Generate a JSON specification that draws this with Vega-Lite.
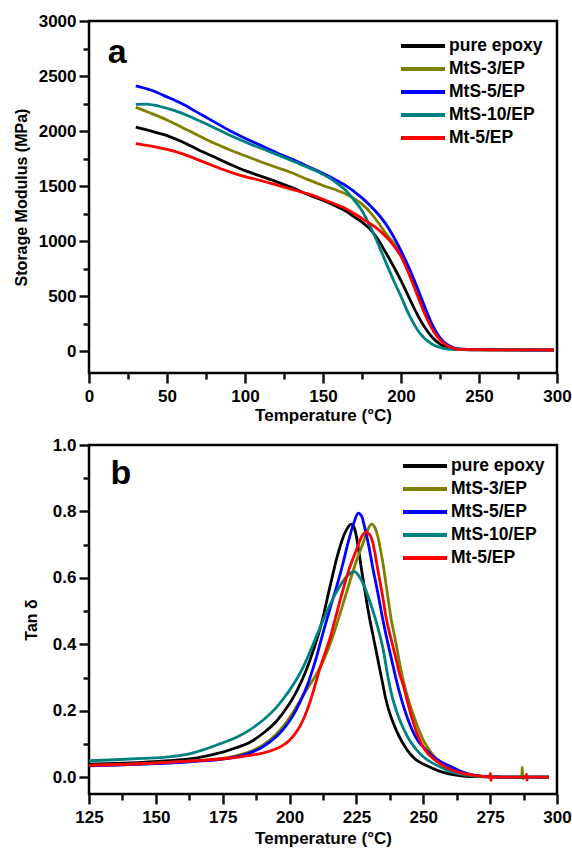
{
"$schema": "https://vega.github.io/schema/vega-lite/v6.json",
"padding": {"left": 11, "top": 10, "right": 0, "bottom": 0},
"bounds": "flush",
"spacing": 72,
"config": {
  "font": "Liberation Sans",
  "view": {"stroke": "#000", "strokeWidth": 2.5},
  "axis": {"domain": false, "grid": false, "labelFont": "Liberation Sans", "labelFontSize": 17, "labelFontWeight": "bold", "labelColor": "#000", "titleFont": "Liberation Sans", "titleFontSize": 17, "titleFontWeight": "bold", "titleColor": "#000", "labelOverlap": false, "labelFlush": false},
  "axisY": {"titleFontSize": 16},
  "legend": {"orient": "none", "title": null, "symbolType": "stroke", "symbolSize": 1936, "symbolStrokeWidth": 4, "clipHeight": 20, "rowPadding": 3, "labelFont": "Liberation Sans", "labelFontSize": 17.5, "labelFontWeight": "bold", "labelColor": "#000", "labelOffset": 2, "padding": 0, "symbolOpacity": 1}
},
"resolve": {"scale": {"color": "independent"}, "legend": {"color": "independent"}},
"datasets": {
"modulus": [
{"s":"pure epoxy","T":30,"E":2035},{"s":"pure epoxy","T":40,"E":1998},{"s":"pure epoxy","T":50,"E":1958},{"s":"pure epoxy","T":60,"E":1900},{"s":"pure epoxy","T":70,"E":1830},{"s":"pure epoxy","T":80,"E":1765},{"s":"pure epoxy","T":90,"E":1700},{"s":"pure epoxy","T":100,"E":1640},{"s":"pure epoxy","T":110,"E":1590},{"s":"pure epoxy","T":120,"E":1540},{"s":"pure epoxy","T":130,"E":1485},{"s":"pure epoxy","T":140,"E":1425},{"s":"pure epoxy","T":150,"E":1370},{"s":"pure epoxy","T":160,"E":1305},{"s":"pure epoxy","T":165,"E":1268},{"s":"pure epoxy","T":170,"E":1220},{"s":"pure epoxy","T":175,"E":1172},{"s":"pure epoxy","T":180,"E":1110},{"s":"pure epoxy","T":185,"E":1020},{"s":"pure epoxy","T":190,"E":900},{"s":"pure epoxy","T":195,"E":775},{"s":"pure epoxy","T":200,"E":640},{"s":"pure epoxy","T":205,"E":490},{"s":"pure epoxy","T":210,"E":345},{"s":"pure epoxy","T":215,"E":220},{"s":"pure epoxy","T":220,"E":125},{"s":"pure epoxy","T":225,"E":62},{"s":"pure epoxy","T":230,"E":28},{"s":"pure epoxy","T":235,"E":16},{"s":"pure epoxy","T":240,"E":12},{"s":"pure epoxy","T":250,"E":10},{"s":"pure epoxy","T":260,"E":10},{"s":"pure epoxy","T":280,"E":9},{"s":"pure epoxy","T":298,"E":8},
{"s":"MtS-3/EP","T":30,"E":2215},{"s":"MtS-3/EP","T":40,"E":2160},{"s":"MtS-3/EP","T":50,"E":2100},{"s":"MtS-3/EP","T":60,"E":2030},{"s":"MtS-3/EP","T":70,"E":1960},{"s":"MtS-3/EP","T":80,"E":1890},{"s":"MtS-3/EP","T":90,"E":1830},{"s":"MtS-3/EP","T":100,"E":1775},{"s":"MtS-3/EP","T":110,"E":1720},{"s":"MtS-3/EP","T":120,"E":1670},{"s":"MtS-3/EP","T":130,"E":1620},{"s":"MtS-3/EP","T":140,"E":1560},{"s":"MtS-3/EP","T":150,"E":1505},{"s":"MtS-3/EP","T":160,"E":1455},{"s":"MtS-3/EP","T":165,"E":1425},{"s":"MtS-3/EP","T":170,"E":1385},{"s":"MtS-3/EP","T":175,"E":1335},{"s":"MtS-3/EP","T":180,"E":1265},{"s":"MtS-3/EP","T":185,"E":1175},{"s":"MtS-3/EP","T":190,"E":1075},{"s":"MtS-3/EP","T":195,"E":985},{"s":"MtS-3/EP","T":200,"E":870},{"s":"MtS-3/EP","T":205,"E":715},{"s":"MtS-3/EP","T":210,"E":540},{"s":"MtS-3/EP","T":215,"E":365},{"s":"MtS-3/EP","T":220,"E":220},{"s":"MtS-3/EP","T":225,"E":110},{"s":"MtS-3/EP","T":230,"E":50},{"s":"MtS-3/EP","T":235,"E":22},{"s":"MtS-3/EP","T":240,"E":15},{"s":"MtS-3/EP","T":250,"E":12},{"s":"MtS-3/EP","T":260,"E":11},{"s":"MtS-3/EP","T":280,"E":10},{"s":"MtS-3/EP","T":298,"E":9},
{"s":"MtS-5/EP","T":30,"E":2410},{"s":"MtS-5/EP","T":40,"E":2370},{"s":"MtS-5/EP","T":50,"E":2310},{"s":"MtS-5/EP","T":60,"E":2245},{"s":"MtS-5/EP","T":70,"E":2165},{"s":"MtS-5/EP","T":80,"E":2085},{"s":"MtS-5/EP","T":90,"E":2005},{"s":"MtS-5/EP","T":100,"E":1935},{"s":"MtS-5/EP","T":110,"E":1870},{"s":"MtS-5/EP","T":120,"E":1805},{"s":"MtS-5/EP","T":130,"E":1745},{"s":"MtS-5/EP","T":140,"E":1680},{"s":"MtS-5/EP","T":150,"E":1615},{"s":"MtS-5/EP","T":160,"E":1540},{"s":"MtS-5/EP","T":165,"E":1500},{"s":"MtS-5/EP","T":170,"E":1448},{"s":"MtS-5/EP","T":175,"E":1392},{"s":"MtS-5/EP","T":180,"E":1325},{"s":"MtS-5/EP","T":185,"E":1250},{"s":"MtS-5/EP","T":190,"E":1160},{"s":"MtS-5/EP","T":195,"E":1045},{"s":"MtS-5/EP","T":200,"E":910},{"s":"MtS-5/EP","T":205,"E":760},{"s":"MtS-5/EP","T":210,"E":590},{"s":"MtS-5/EP","T":215,"E":410},{"s":"MtS-5/EP","T":220,"E":240},{"s":"MtS-5/EP","T":225,"E":120},{"s":"MtS-5/EP","T":230,"E":55},{"s":"MtS-5/EP","T":235,"E":25},{"s":"MtS-5/EP","T":240,"E":17},{"s":"MtS-5/EP","T":250,"E":14},{"s":"MtS-5/EP","T":260,"E":12},{"s":"MtS-5/EP","T":280,"E":10},{"s":"MtS-5/EP","T":298,"E":9},
{"s":"MtS-10/EP","T":30,"E":2242},{"s":"MtS-10/EP","T":37,"E":2245},{"s":"MtS-10/EP","T":45,"E":2225},{"s":"MtS-10/EP","T":55,"E":2185},{"s":"MtS-10/EP","T":65,"E":2130},{"s":"MtS-10/EP","T":75,"E":2065},{"s":"MtS-10/EP","T":85,"E":1998},{"s":"MtS-10/EP","T":95,"E":1932},{"s":"MtS-10/EP","T":105,"E":1872},{"s":"MtS-10/EP","T":115,"E":1817},{"s":"MtS-10/EP","T":125,"E":1760},{"s":"MtS-10/EP","T":135,"E":1700},{"s":"MtS-10/EP","T":145,"E":1640},{"s":"MtS-10/EP","T":155,"E":1565},{"s":"MtS-10/EP","T":160,"E":1515},{"s":"MtS-10/EP","T":165,"E":1455},{"s":"MtS-10/EP","T":170,"E":1370},{"s":"MtS-10/EP","T":175,"E":1275},{"s":"MtS-10/EP","T":180,"E":1140},{"s":"MtS-10/EP","T":185,"E":985},{"s":"MtS-10/EP","T":190,"E":815},{"s":"MtS-10/EP","T":195,"E":650},{"s":"MtS-10/EP","T":200,"E":495},{"s":"MtS-10/EP","T":205,"E":335},{"s":"MtS-10/EP","T":210,"E":205},{"s":"MtS-10/EP","T":215,"E":115},{"s":"MtS-10/EP","T":220,"E":62},{"s":"MtS-10/EP","T":225,"E":32},{"s":"MtS-10/EP","T":230,"E":18},{"s":"MtS-10/EP","T":235,"E":14},{"s":"MtS-10/EP","T":240,"E":12},{"s":"MtS-10/EP","T":250,"E":10},{"s":"MtS-10/EP","T":260,"E":10},{"s":"MtS-10/EP","T":280,"E":9},{"s":"MtS-10/EP","T":298,"E":8},
{"s":"Mt-5/EP","T":30,"E":1885},{"s":"Mt-5/EP","T":40,"E":1862},{"s":"Mt-5/EP","T":50,"E":1832},{"s":"Mt-5/EP","T":60,"E":1792},{"s":"Mt-5/EP","T":70,"E":1738},{"s":"Mt-5/EP","T":80,"E":1682},{"s":"Mt-5/EP","T":90,"E":1628},{"s":"Mt-5/EP","T":100,"E":1585},{"s":"Mt-5/EP","T":110,"E":1550},{"s":"Mt-5/EP","T":120,"E":1510},{"s":"Mt-5/EP","T":130,"E":1470},{"s":"Mt-5/EP","T":140,"E":1430},{"s":"Mt-5/EP","T":150,"E":1380},{"s":"Mt-5/EP","T":160,"E":1322},{"s":"Mt-5/EP","T":165,"E":1292},{"s":"Mt-5/EP","T":170,"E":1250},{"s":"Mt-5/EP","T":175,"E":1205},{"s":"Mt-5/EP","T":180,"E":1160},{"s":"Mt-5/EP","T":185,"E":1110},{"s":"Mt-5/EP","T":190,"E":1045},{"s":"Mt-5/EP","T":195,"E":965},{"s":"Mt-5/EP","T":200,"E":860},{"s":"Mt-5/EP","T":205,"E":705},{"s":"Mt-5/EP","T":210,"E":525},{"s":"Mt-5/EP","T":215,"E":345},{"s":"Mt-5/EP","T":220,"E":200},{"s":"Mt-5/EP","T":225,"E":100},{"s":"Mt-5/EP","T":230,"E":45},{"s":"Mt-5/EP","T":235,"E":20},{"s":"Mt-5/EP","T":240,"E":14},{"s":"Mt-5/EP","T":250,"E":12},{"s":"Mt-5/EP","T":260,"E":11},{"s":"Mt-5/EP","T":280,"E":10},{"s":"Mt-5/EP","T":298,"E":9}
],
"tand": [
{"s":"pure epoxy","T":125,"v":0.040},{"s":"pure epoxy","T":135,"v":0.042},{"s":"pure epoxy","T":145,"v":0.045},{"s":"pure epoxy","T":155,"v":0.050},{"s":"pure epoxy","T":160,"v":0.053},{"s":"pure epoxy","T":165,"v":0.058},{"s":"pure epoxy","T":170,"v":0.066},{"s":"pure epoxy","T":175,"v":0.076},{"s":"pure epoxy","T":180,"v":0.089},{"s":"pure epoxy","T":185,"v":0.105},{"s":"pure epoxy","T":190,"v":0.132},{"s":"pure epoxy","T":195,"v":0.168},{"s":"pure epoxy","T":200,"v":0.222},{"s":"pure epoxy","T":203,"v":0.265},{"s":"pure epoxy","T":206,"v":0.318},{"s":"pure epoxy","T":209,"v":0.385},{"s":"pure epoxy","T":212,"v":0.465},{"s":"pure epoxy","T":215,"v":0.57},{"s":"pure epoxy","T":218,"v":0.67},{"s":"pure epoxy","T":220,"v":0.722},{"s":"pure epoxy","T":222,"v":0.754},{"s":"pure epoxy","T":223,"v":0.762},{"s":"pure epoxy","T":224,"v":0.755},{"s":"pure epoxy","T":225,"v":0.725},{"s":"pure epoxy","T":226,"v":0.675},{"s":"pure epoxy","T":227,"v":0.62},{"s":"pure epoxy","T":228,"v":0.57},{"s":"pure epoxy","T":229,"v":0.52},{"s":"pure epoxy","T":230,"v":0.475},{"s":"pure epoxy","T":231,"v":0.435},{"s":"pure epoxy","T":232,"v":0.395},{"s":"pure epoxy","T":233,"v":0.355},{"s":"pure epoxy","T":234,"v":0.315},{"s":"pure epoxy","T":235,"v":0.275},{"s":"pure epoxy","T":236,"v":0.235},{"s":"pure epoxy","T":238,"v":0.18},{"s":"pure epoxy","T":240,"v":0.14},{"s":"pure epoxy","T":242,"v":0.108},{"s":"pure epoxy","T":244,"v":0.082},{"s":"pure epoxy","T":247,"v":0.055},{"s":"pure epoxy","T":250,"v":0.04},{"s":"pure epoxy","T":253,"v":0.029},{"s":"pure epoxy","T":256,"v":0.019},{"s":"pure epoxy","T":260,"v":0.01},{"s":"pure epoxy","T":265,"v":0.004},{"s":"pure epoxy","T":270,"v":0.002},{"s":"pure epoxy","T":280,"v":0.001},{"s":"pure epoxy","T":297,"v":0.001},
{"s":"MtS-3/EP","T":125,"v":0.036},{"s":"MtS-3/EP","T":135,"v":0.038},{"s":"MtS-3/EP","T":145,"v":0.041},{"s":"MtS-3/EP","T":155,"v":0.045},{"s":"MtS-3/EP","T":165,"v":0.050},{"s":"MtS-3/EP","T":175,"v":0.057},{"s":"MtS-3/EP","T":180,"v":0.065},{"s":"MtS-3/EP","T":185,"v":0.077},{"s":"MtS-3/EP","T":190,"v":0.097},{"s":"MtS-3/EP","T":195,"v":0.13},{"s":"MtS-3/EP","T":198,"v":0.157},{"s":"MtS-3/EP","T":201,"v":0.192},{"s":"MtS-3/EP","T":204,"v":0.232},{"s":"MtS-3/EP","T":207,"v":0.272},{"s":"MtS-3/EP","T":210,"v":0.31},{"s":"MtS-3/EP","T":213,"v":0.358},{"s":"MtS-3/EP","T":216,"v":0.42},{"s":"MtS-3/EP","T":218,"v":0.47},{"s":"MtS-3/EP","T":220,"v":0.522},{"s":"MtS-3/EP","T":222,"v":0.575},{"s":"MtS-3/EP","T":225,"v":0.652},{"s":"MtS-3/EP","T":227.5,"v":0.705},{"s":"MtS-3/EP","T":229,"v":0.74},{"s":"MtS-3/EP","T":230.6,"v":0.762},{"s":"MtS-3/EP","T":232,"v":0.75},{"s":"MtS-3/EP","T":233,"v":0.725},{"s":"MtS-3/EP","T":234,"v":0.685},{"s":"MtS-3/EP","T":235,"v":0.64},{"s":"MtS-3/EP","T":236,"v":0.585},{"s":"MtS-3/EP","T":237,"v":0.53},{"s":"MtS-3/EP","T":238,"v":0.475},{"s":"MtS-3/EP","T":239,"v":0.435},{"s":"MtS-3/EP","T":240,"v":0.395},{"s":"MtS-3/EP","T":241,"v":0.35},{"s":"MtS-3/EP","T":242,"v":0.31},{"s":"MtS-3/EP","T":244,"v":0.245},{"s":"MtS-3/EP","T":246,"v":0.195},{"s":"MtS-3/EP","T":248,"v":0.15},{"s":"MtS-3/EP","T":250,"v":0.112},{"s":"MtS-3/EP","T":252,"v":0.085},{"s":"MtS-3/EP","T":255,"v":0.055},{"s":"MtS-3/EP","T":260,"v":0.032},{"s":"MtS-3/EP","T":265,"v":0.014},{"s":"MtS-3/EP","T":270,"v":0.005},{"s":"MtS-3/EP","T":280,"v":0.001},{"s":"MtS-3/EP","T":286.8,"v":0.001},{"s":"MtS-3/EP","T":287,"v":0.031},{"s":"MtS-3/EP","T":287.2,"v":-0.004},{"s":"MtS-3/EP","T":287.4,"v":0.001},{"s":"MtS-3/EP","T":297,"v":0.001},
{"s":"MtS-5/EP","T":125,"v":0.035},{"s":"MtS-5/EP","T":135,"v":0.037},{"s":"MtS-5/EP","T":145,"v":0.040},{"s":"MtS-5/EP","T":155,"v":0.043},{"s":"MtS-5/EP","T":165,"v":0.048},{"s":"MtS-5/EP","T":175,"v":0.055},{"s":"MtS-5/EP","T":180,"v":0.062},{"s":"MtS-5/EP","T":185,"v":0.073},{"s":"MtS-5/EP","T":190,"v":0.092},{"s":"MtS-5/EP","T":195,"v":0.122},{"s":"MtS-5/EP","T":198,"v":0.148},{"s":"MtS-5/EP","T":201,"v":0.182},{"s":"MtS-5/EP","T":204,"v":0.228},{"s":"MtS-5/EP","T":207,"v":0.285},{"s":"MtS-5/EP","T":210,"v":0.36},{"s":"MtS-5/EP","T":212,"v":0.42},{"s":"MtS-5/EP","T":215,"v":0.505},{"s":"MtS-5/EP","T":218,"v":0.585},{"s":"MtS-5/EP","T":220,"v":0.645},{"s":"MtS-5/EP","T":222,"v":0.71},{"s":"MtS-5/EP","T":224,"v":0.765},{"s":"MtS-5/EP","T":225.7,"v":0.795},{"s":"MtS-5/EP","T":227,"v":0.785},{"s":"MtS-5/EP","T":228,"v":0.755},{"s":"MtS-5/EP","T":229,"v":0.72},{"s":"MtS-5/EP","T":230,"v":0.68},{"s":"MtS-5/EP","T":231,"v":0.635},{"s":"MtS-5/EP","T":232,"v":0.595},{"s":"MtS-5/EP","T":233,"v":0.555},{"s":"MtS-5/EP","T":235,"v":0.47},{"s":"MtS-5/EP","T":237,"v":0.395},{"s":"MtS-5/EP","T":238,"v":0.36},{"s":"MtS-5/EP","T":240,"v":0.29},{"s":"MtS-5/EP","T":242,"v":0.23},{"s":"MtS-5/EP","T":244,"v":0.18},{"s":"MtS-5/EP","T":246,"v":0.14},{"s":"MtS-5/EP","T":248,"v":0.11},{"s":"MtS-5/EP","T":251,"v":0.083},{"s":"MtS-5/EP","T":254,"v":0.06},{"s":"MtS-5/EP","T":257,"v":0.045},{"s":"MtS-5/EP","T":261,"v":0.03},{"s":"MtS-5/EP","T":265,"v":0.015},{"s":"MtS-5/EP","T":268,"v":0.008},{"s":"MtS-5/EP","T":272,"v":0.003},{"s":"MtS-5/EP","T":280,"v":0.001},{"s":"MtS-5/EP","T":297,"v":0.001},
{"s":"MtS-10/EP","T":125,"v":0.05},{"s":"MtS-10/EP","T":135,"v":0.053},{"s":"MtS-10/EP","T":145,"v":0.057},{"s":"MtS-10/EP","T":155,"v":0.062},{"s":"MtS-10/EP","T":160,"v":0.067},{"s":"MtS-10/EP","T":165,"v":0.076},{"s":"MtS-10/EP","T":170,"v":0.089},{"s":"MtS-10/EP","T":175,"v":0.104},{"s":"MtS-10/EP","T":180,"v":0.12},{"s":"MtS-10/EP","T":185,"v":0.142},{"s":"MtS-10/EP","T":190,"v":0.172},{"s":"MtS-10/EP","T":195,"v":0.21},{"s":"MtS-10/EP","T":200,"v":0.262},{"s":"MtS-10/EP","T":205,"v":0.33},{"s":"MtS-10/EP","T":208,"v":0.385},{"s":"MtS-10/EP","T":211,"v":0.443},{"s":"MtS-10/EP","T":214,"v":0.5},{"s":"MtS-10/EP","T":217,"v":0.55},{"s":"MtS-10/EP","T":220,"v":0.59},{"s":"MtS-10/EP","T":222,"v":0.61},{"s":"MtS-10/EP","T":224.3,"v":0.619},{"s":"MtS-10/EP","T":226,"v":0.605},{"s":"MtS-10/EP","T":228,"v":0.574},{"s":"MtS-10/EP","T":230,"v":0.53},{"s":"MtS-10/EP","T":232.2,"v":0.474},{"s":"MtS-10/EP","T":234,"v":0.42},{"s":"MtS-10/EP","T":235,"v":0.385},{"s":"MtS-10/EP","T":236.5,"v":0.315},{"s":"MtS-10/EP","T":238,"v":0.255},{"s":"MtS-10/EP","T":240.6,"v":0.185},{"s":"MtS-10/EP","T":243,"v":0.14},{"s":"MtS-10/EP","T":245,"v":0.11},{"s":"MtS-10/EP","T":247.5,"v":0.083},{"s":"MtS-10/EP","T":250,"v":0.062},{"s":"MtS-10/EP","T":253,"v":0.045},{"s":"MtS-10/EP","T":256,"v":0.033},{"s":"MtS-10/EP","T":260,"v":0.018},{"s":"MtS-10/EP","T":265,"v":0.008},{"s":"MtS-10/EP","T":270,"v":0.003},{"s":"MtS-10/EP","T":280,"v":0.001},{"s":"MtS-10/EP","T":297,"v":0.001},
{"s":"Mt-5/EP","T":125,"v":0.036},{"s":"Mt-5/EP","T":135,"v":0.038},{"s":"Mt-5/EP","T":145,"v":0.041},{"s":"Mt-5/EP","T":155,"v":0.045},{"s":"Mt-5/EP","T":165,"v":0.050},{"s":"Mt-5/EP","T":175,"v":0.056},{"s":"Mt-5/EP","T":180,"v":0.060},{"s":"Mt-5/EP","T":185,"v":0.066},{"s":"Mt-5/EP","T":190,"v":0.073},{"s":"Mt-5/EP","T":194,"v":0.083},{"s":"Mt-5/EP","T":197,"v":0.094},{"s":"Mt-5/EP","T":200,"v":0.112},{"s":"Mt-5/EP","T":203,"v":0.142},{"s":"Mt-5/EP","T":205,"v":0.172},{"s":"Mt-5/EP","T":207,"v":0.212},{"s":"Mt-5/EP","T":209,"v":0.262},{"s":"Mt-5/EP","T":211,"v":0.318},{"s":"Mt-5/EP","T":213,"v":0.368},{"s":"Mt-5/EP","T":215,"v":0.415},{"s":"Mt-5/EP","T":217,"v":0.475},{"s":"Mt-5/EP","T":220,"v":0.565},{"s":"Mt-5/EP","T":222,"v":0.62},{"s":"Mt-5/EP","T":225,"v":0.685},{"s":"Mt-5/EP","T":227,"v":0.725},{"s":"Mt-5/EP","T":228.6,"v":0.738},{"s":"Mt-5/EP","T":230,"v":0.73},{"s":"Mt-5/EP","T":231,"v":0.71},{"s":"Mt-5/EP","T":233,"v":0.625},{"s":"Mt-5/EP","T":235,"v":0.535},{"s":"Mt-5/EP","T":236,"v":0.485},{"s":"Mt-5/EP","T":238,"v":0.415},{"s":"Mt-5/EP","T":240,"v":0.35},{"s":"Mt-5/EP","T":241,"v":0.315},{"s":"Mt-5/EP","T":242.5,"v":0.278},{"s":"Mt-5/EP","T":244,"v":0.23},{"s":"Mt-5/EP","T":245.6,"v":0.183},{"s":"Mt-5/EP","T":248,"v":0.125},{"s":"Mt-5/EP","T":250.6,"v":0.083},{"s":"Mt-5/EP","T":254,"v":0.055},{"s":"Mt-5/EP","T":258,"v":0.033},{"s":"Mt-5/EP","T":263,"v":0.016},{"s":"Mt-5/EP","T":267.5,"v":0.008},{"s":"Mt-5/EP","T":272,"v":0.003},{"s":"Mt-5/EP","T":274.9,"v":0.001},{"s":"Mt-5/EP","T":275.1,"v":0.012},{"s":"Mt-5/EP","T":275.3,"v":-0.01},{"s":"Mt-5/EP","T":275.5,"v":0.001},{"s":"Mt-5/EP","T":288.4,"v":0.001},{"s":"Mt-5/EP","T":288.6,"v":0.01},{"s":"Mt-5/EP","T":288.8,"v":-0.008},{"s":"Mt-5/EP","T":289,"v":0.001},{"s":"Mt-5/EP","T":297,"v":0.001}
]
},
"vconcat": [
{
  "width": 468, "height": 352,
  "resolve": {"axis": {"x": "independent", "y": "independent"}},
  "layer": [
    {
      "data": {"name": "modulus"},
      "mark": {"type": "line", "strokeWidth": 2.8, "interpolate": "monotone"},
      "encoding": {
        "x": {"field": "T", "type": "quantitative", "title": "Temperature (°C)",
              "scale": {"domain": [0, 300], "nice": false, "zero": false},
              "axis": {"orient": "bottom", "values": [0,50,100,150,200,250,300], "ticks": true, "tickColor": "#111111", "tickWidth": 2.5, "tickSize": 10, "tickOpacity": 1, "labelPadding": 5, "titlePadding": 3}},
        "y": {"field": "E", "type": "quantitative", "title": "Storage Modulus (MPa)",
              "scale": {"domain": [-200, 3000], "nice": false, "zero": false},
              "axis": {"orient": "left", "values": [0,500,1000,1500,2000,2500,3000], "format": "d", "ticks": true, "tickColor": "#111111", "tickWidth": 2.5, "tickSize": 10, "tickOpacity": 1, "labelPadding": 3, "titlePadding": 9}},
        "color": {"field": "s", "type": "nominal",
                  "scale": {"domain": ["pure epoxy", "MtS-3/EP", "MtS-5/EP", "MtS-10/EP", "Mt-5/EP"], "range": ["#000000", "#808000", "#0000ff", "#008080", "#ff0000"]},
                  "legend": {"legendX": 310, "legendY": 15}}
      }
    },
    {
      "data": {"values": [{"panel": "a"}]},
      "mark": {"type": "text", "fontSize": 34, "fontWeight": "bold", "align": "left", "baseline": "alphabetic", "color": "#000"},
      "encoding": {
        "text": {"field": "panel"},
        "x": {"datum": 12, "type": "quantitative", "axis": {"orient": "bottom", "values": [25,75,125,175,225,275], "labels": false, "title": null, "ticks": true, "tickColor": "#111111", "tickWidth": 2.5, "tickSize": 6, "tickOpacity": 1}},
        "y": {"datum": 2614, "type": "quantitative", "axis": {"orient": "left", "values": [250,750,1250,1750,2250,2750], "labels": false, "title": null, "ticks": true, "tickColor": "#111111", "tickWidth": 2.5, "tickSize": 6, "tickOpacity": 1}}
      }
    }
  ]
},
{
  "width": 468, "height": 349,
  "resolve": {"axis": {"x": "independent", "y": "independent"}},
  "layer": [
    {
      "data": {"name": "tand"},
      "mark": {"type": "line", "strokeWidth": 2.8, "interpolate": "monotone"},
      "encoding": {
        "x": {"field": "T", "type": "quantitative", "title": "Temperature (°C)",
              "scale": {"domain": [125, 300], "nice": false, "zero": false},
              "axis": {"orient": "bottom", "values": [125,150,175,200,225,250,275,300], "ticks": true, "tickColor": "#111111", "tickWidth": 2.5, "tickSize": 10, "tickOpacity": 1, "labelPadding": 5, "titlePadding": 5}},
        "y": {"field": "v", "type": "quantitative", "title": "Tan δ",
              "scale": {"domain": [-0.05, 1.0], "nice": false, "zero": false},
              "axis": {"orient": "left", "values": [0,0.2,0.4,0.6,0.8,1.0], "format": ".1f", "ticks": true, "tickColor": "#111111", "tickWidth": 2.5, "tickSize": 10, "tickOpacity": 1, "labelPadding": 3, "titlePadding": 13}},
        "color": {"field": "s", "type": "nominal",
                  "scale": {"domain": ["pure epoxy", "MtS-3/EP", "MtS-5/EP", "MtS-10/EP", "Mt-5/EP"], "range": ["#000000", "#808000", "#0000ff", "#008080", "#ff0000"]},
                  "legend": {"legendX": 312, "legendY": 11}}
      }
    },
    {
      "data": {"values": [{"panel": "b"}]},
      "mark": {"type": "text", "fontSize": 34, "fontWeight": "bold", "align": "left", "baseline": "alphabetic", "color": "#000"},
      "encoding": {
        "text": {"field": "panel"},
        "x": {"datum": 133, "type": "quantitative", "axis": {"orient": "bottom", "values": [137.5,162.5,187.5,212.5,237.5,262.5,287.5], "labels": false, "title": null, "ticks": true, "tickColor": "#111111", "tickWidth": 2.5, "tickSize": 6, "tickOpacity": 1}},
        "y": {"datum": 0.883, "type": "quantitative", "axis": {"orient": "left", "values": [0.1,0.3,0.5,0.7,0.9], "labels": false, "title": null, "ticks": true, "tickColor": "#111111", "tickWidth": 2.5, "tickSize": 6, "tickOpacity": 1}}
      }
    }
  ]
}
]
}
